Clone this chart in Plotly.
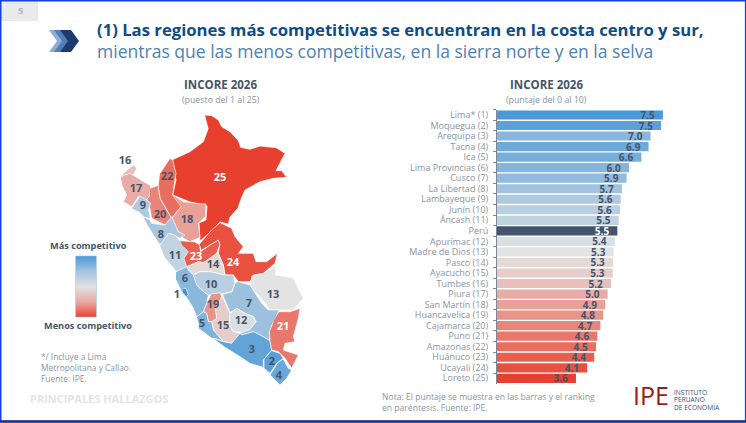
import plotly.graph_objects as go

FONT = "Open Sans"
DARK = "#44546a"
GREY = "#8a94a3"

REGIONS = ["Lima* (1)", "Moquegua (2)", "Arequipa (3)", "Tacna (4)", "Ica (5)", "Lima Provincias (6)",
           "Cusco (7)", "La Libertad (8)", "Lambayeque (9)", "Junín (10)", "Áncash (11)", "Perú",
           "Apurímac (12)", "Madre de Dios (13)", "Pasco (14)", "Ayacucho (15)", "Tumbes (16)", "Piura (17)",
           "San Martín (18)", "Huancavelica (19)", "Cajamarca (20)", "Puno (21)", "Amazonas (22)",
           "Huánuco (23)", "Ucayali (24)", "Loreto (25)"]
SCORES = [7.54, 7.46, 6.98, 6.89, 6.56, 6.00, 5.89, 5.68, 5.62, 5.59, 5.53, 5.47, 5.35, 5.30, 5.27, 5.26,
          5.18, 5.03, 4.92, 4.83, 4.70, 4.56, 4.50, 4.42, 4.10, 3.59]
SCORE_LABELS = ["7.5", "7.5", "7.0", "6.9", "6.6", "6.0", "5.9", "5.7", "5.6", "5.6", "5.5", "5.5", "5.4",
                "5.3", "5.3", "5.3", "5.2", "5.0", "4.9", "4.8", "4.7", "4.6", "4.5", "4.4", "4.1", "3.6"]
BAR_COLORS = ["#4998d8", "#5ca2d9", "#88b6dd", "#6daad9", "#74aeda", "#85b5dc", "#91bbdd", "#a2c2dd",
              "#afc9df", "#b7cfe0", "#bed2e0", "#44546e", "#dadfe4", "#e3e3e3", "#e5d9d7", "#e6cdcb",
              "#e7c0bc", "#e8aca7", "#e8a097", "#e89489", "#e8857a", "#e8786b", "#e86e60", "#e85f50",
              "#e85040", "#e8402e"]

# Map outlines: rank -> (crop origin x, crop origin y, points read in 3x crop units)
REGION_OUTLINES = {
    25: (150, 110, [(165,15),(185,17),(205,30),(215,50),(240,65),(265,92),(272,112),(300,118),(330,108),(378,113),
                    (405,130),(378,182),(395,182),(410,202),(370,205),(330,215),(285,240),(275,262),(264,294),
                    (240,321),(235,342),(210,336),(195,354),(150,393),(147,339),(168,330),(171,288),
                    (120,276),(69,255),(69,250),(78,210),(66,150),(120,125),(160,95),(175,55)]),
    22: (100, 130, [(180,130),(210,85),(218,90),(228,130),(218,195),(243,230),(215,265),(180,205),(175,175)]),
    18: (100, 130, [(218,195),(250,215),(290,220),(318,222),(316,260),(295,280),(300,322),(270,335),(250,325),
                    (225,290),(215,265),(243,230)]),
    16: (100, 130, [(62,140),(75,125),(100,105),(110,115),(100,135),(85,140)]),
    17: (100, 130, [(62,140),(90,130),(115,145),(130,155),(150,165),(152,175),(150,195),(140,210),(130,210),(115,200),
                    (95,230),(70,215),(80,195),(68,170)]),
    20: (100, 130, [(150,175),(175,166),(176,178),(180,205),(200,240),(215,265),(205,290),(185,280),(155,265),(150,235),
                    (140,210),(150,195)]),
    9: (110, 170, [(65,115),(90,78),(110,90),(122,100),(115,120),(118,130),(122,145),(105,143),(85,125)]),
    8: (110, 170, [(100,140),(120,150),(125,160),(165,165),(185,140),(195,165),(205,185),(225,195),(210,205),
                   (200,200),(180,190),(165,215),(150,225),(130,195),(115,170)]),
    11: (100, 130, [(180,345),(205,310),(225,315),(240,333),(255,345),(270,370),(255,380),(270,410),(255,420),(230,425),(195,385)]),
    23: (170, 220, [(30,62),(75,66),(88,74),(92,95),(120,75),(145,60),(150,72),(140,100),(120,120),(100,128),(85,125),
                    (50,140),(42,115),(55,95),(40,80)]),
    24: (170, 220, [(88,72),(125,30),(150,8),(185,25),(195,50),(220,80),(205,100),(250,100),(258,125),(290,125),
                    (322,100),(315,130),(280,160),(250,165),(240,185),(205,185),(190,165),(165,165),(160,135),
                    (145,100),(150,72),(145,60),(95,90)]),
    14: (170, 220, [(50,140),(85,125),(100,128),(140,100),(145,100),(160,135),(165,165),(145,160),(120,155),(90,155),
                    (70,165),(55,150)]),
    10: (170, 220, [(70,165),(90,155),(120,155),(145,160),(165,165),(190,165),(195,190),(185,215),(160,220),(140,225),
                    (115,225),(100,215),(80,195)]),
    13: (130, 260, [(365,48),(400,40),(437,18),(437,45),(470,50),(490,55),(520,115),(490,150),(420,150),(390,110),(360,85)]),
    7: (170, 280, [(205,5),(240,15),(275,70),(295,90),(327,90),(310,130),(298,160),(300,182),(270,165),(250,155),
                   (215,165),(210,158),(240,148),(258,125),(250,110),(225,100),(200,85),(180,98),(175,85),(157,43),
                   (186,36),(195,10)]),
    12: (170, 280, [(180,100),(200,85),(225,100),(250,110),(258,125),(240,148),(215,157),(190,155),(178,135)]),
    15: (170, 280, [(155,45),(175,85),(180,100),(178,135),(190,155),(210,160),(205,175),(185,190),(160,185),(130,150),
                    (125,125),(140,115),(135,80)]),
    19: (170, 280, [(125,42),(150,38),(155,48),(145,75),(135,85),(140,115),(125,125),(115,125),(110,100),(100,95),(110,70)]),
    5: (170, 280, [(80,110),(100,95),(110,100),(115,125),(125,125),(130,150),(160,185),(135,175),(125,175),(100,155),
                   (85,145),(85,125)]),
    3: (170, 280, [(130,175),(160,185),(185,190),(210,160),(215,165),(250,155),(270,165),(300,182),(305,210),(280,240),
                   (280,262),(240,250),(210,230),(170,205)]),
    2: (170, 280, [(305,212),(330,220),(340,235),(320,250),(300,280),(282,265),(282,240)]),
    4: (170, 280, [(340,238),(355,265),(365,270),(350,295),(330,315),(300,285),(322,250)]),
    21: (170, 280, [(327,95),(360,95),(390,85),(385,115),(370,170),(375,185),(345,190),(340,210),(385,225),(365,265),
                    (345,235),(325,215),(305,210),(300,182),(298,155),(310,125)]),
    6: (170, 220, [(18,155),(50,140),(55,150),(70,165),(80,195),(100,215),(115,225),(110,250),(100,275),(80,290),
                   (70,265),(55,240),(35,215),(18,180)]),
    1: (170, 280, [(38,25),(48,25),(55,45),(48,50),(40,40)]),
}
MAP_COLORS = {1: "#3f8fd4", 2: "#5a9fd8", 3: "#62a3d8", 4: "#68a8db", 5: "#80b4dd", 6: "#8ab8dd", 7: "#9cc0dd",
              8: "#a8c6df", 9: "#afcae0", 10: "#b7cfe0", 11: "#c2d4e1", 12: "#dadfe4", 13: "#e3e3e3", 14: "#e5d9d7",
              15: "#e6cdcb", 16: "#e7c0bc", 17: "#e8aca7", 18: "#e8a097", 19: "#e89489", 20: "#e8857a", 21: "#e8786b",
              22: "#e86e60", 23: "#e85f50", 24: "#e85040", 25: "#e8402e"}

RANK_TEXT = ["16", "17", "9", "22", "25", "20", "18", "8", "11", "23", "14", "24", "6", "1", "10", "19", "15",
             "12", "7", "13", "5", "21", "3", "2", "4"]
RANK_X = [125, 136, 143, 167, 220, 160, 187, 161, 175, 196, 213, 233, 185, 177, 211, 213, 223, 241, 249, 273, 202,
          283, 252, 272, 279]
RANK_Y = [161, 189, 206, 177, 178, 215, 220, 235, 256, 257, 265, 263, 279, 295, 285, 305, 326, 321, 304, 295, 324,
          327, 350, 362, 376]
RANK_COLORS = ["white" if t in ("25", "23", "24", "21") else DARK for t in RANK_TEXT]

W, H = 746, 423
fig = go.Figure()

# bars
fig.add_trace(go.Bar(x=SCORES, y=REGIONS, orientation="h", xaxis="x", yaxis="y",
                     marker=dict(color=BAR_COLORS, line=dict(width=0)),
                     text=[s + "\u00a0\u00a0" for s in SCORE_LABELS], textposition="inside", insidetextanchor="end",
                     constraintext="none", textangle=0,
                     textfont=dict(family=FONT, size=10, weight=700,
                                   color=["white" if r == "Perú" else DARK for r in REGIONS]),
                     showlegend=False, hoverinfo="skip"))

# map
for rank, (ox, oy, pts) in REGION_OUTLINES.items():
    fig.add_trace(go.Scatter(x=[ox + p[0] / 3 for p in pts], y=[oy + p[1] / 3 for p in pts],
                             xaxis="x2", yaxis="y2", mode="lines", fill="toself",
                             fillcolor=MAP_COLORS[rank], line=dict(color="rgba(255,255,255,0.85)", width=0.8),
                             showlegend=False, hoverinfo="skip"))
fig.add_trace(go.Scatter(x=RANK_X, y=RANK_Y, xaxis="x2", yaxis="y2", mode="text", text=RANK_TEXT,
                         textfont=dict(family=FONT, size=11, weight=700, color=RANK_COLORS),
                         showlegend=False, hoverinfo="skip"))

# legend ramp
fig.add_trace(go.Heatmap(z=[[1, 1], [0, 0]], x=[0, 1], y=[0, 1], xaxis="x3", yaxis="y3", zsmooth="best",
                         colorscale=[[0, "#4a9ad8"], [0.25, "#a5c5df"], [0.5, "#e2e2e2"], [0.75, "#e9a8a0"], [1, "#e8402e"]],
                         showscale=False, hoverinfo="skip"))


def note(x, y, text, size, color, bold=False, anchor="left"):
    return dict(xref="paper", yref="paper", x=x / W, y=1 - y / H, text=text, showarrow=False, xanchor=anchor,
                yanchor="middle", align=anchor,
                font=dict(family=FONT, size=size, color=color, weight=700 if bold else 400))


annotations = [
    note(20, 10, "5", 9.5, "#b5b8ba", True, "center"),
    note(95, 30, "(1) Las regiones más competitivas se encuentran en la costa centro y sur,", 16.7, "#0f4c87", True),
    note(95, 51, "mientras que las menos competitivas, en la sierra norte y en la selva", 17.55, "#4f81b0"),
    note(221, 84, "INCORE 2026", 11.5, DARK, True, "center"),
    note(221, 100, "(puesto del 1 al 25)", 8.8, GREY, False, "center"),
    note(546, 84, "INCORE 2026", 11.5, DARK, True, "center"),
    note(546, 100, "(puntaje del 0 al 10)", 8.8, GREY, False, "center"),
    note(88, 246, "Más competitivo", 9.2, DARK, True, "center"),
    note(88, 325, "Menos competitivo", 9.2, DARK, True, "center"),
    note(39, 356, "*/ Incluye a Lima", 8.4, GREY),
    note(39, 367, "Metropolitana y Callao.", 8.4, GREY),
    note(39, 378, "Fuente: IPE.", 8.4, GREY),
    note(28, 398, "PRINCIPALES HALLAZGOS", 11, "#e3e5e8", True),
    note(380, 397, "Nota: El puntaje se muestra en las barras y el ranking", 8.6, GREY),
    note(380, 408, "en paréntesis. Fuente: IPE.", 8.6, GREY),
    note(631, 395, "IPE", 25, "#9b1c1c"),
    note(672, 392, "INSTITUTO", 6.6, "#3a4a78"),
    note(672, 399.5, "PERUANO", 6.6, "#3a4a78"),
    note(672, 407, "DE ECONOMÍA", 6.6, "#3a4a78"),
]


def chevron(x0, color):
    return dict(type="path", xref="x2", yref="y2", layer="above", line=dict(width=0), fillcolor=color,
                path=f"M{x0} 30 L{x0+11} 30 L{x0+19} 41 L{x0+11} 52 L{x0} 52 L{x0+8} 41 Z")


shapes = [
    dict(type="rect", xref="x2", yref="y2", x0=1, x1=38, y0=1, y1=21, fillcolor="#e8eaeb", line=dict(width=0), layer="below"),
    chevron(49, "#8fadd3"), chevron(54, "#4f7fb8"), chevron(60, "#1f3a6e"),
    dict(type="rect", xref="x2", yref="y2", x0=75.5, x1=96.5, y0=256, y1=317, line=dict(color="#9cc4e4", width=0.6), fillcolor="rgba(0,0,0,0)"),
    dict(type="rect", xref="paper", yref="paper", x0=0.001, x1=0.9995, y0=0.0035, y1=0.998,
         line=dict(color="#1a3ee0", width=1.5), fillcolor="rgba(0,0,0,0)"),
    dict(type="line", xref="paper", yref="paper", x0=0, x1=1, y0=0.0035, y1=0.0035, line=dict(color="#12308f", width=2.5)),
]

fig.update_layout(
    width=W, height=H, margin=dict(l=0, r=0, t=0, b=0, pad=0), autosize=False,
    paper_bgcolor="white", plot_bgcolor="rgba(0,0,0,0)",
    bargap=0.13, showlegend=False, annotations=annotations, shapes=shapes,
    font=dict(family=FONT),
    xaxis=dict(domain=[497 / W, 1], range=[0, 249 / 22], visible=False, fixedrange=True),
    yaxis=dict(domain=[1 - 383.6 / H, 1 - 109.7 / H], type="category", autorange="reversed", anchor="x",
               categoryorder="array", categoryarray=REGIONS, tickmode="linear", dtick=1,
               showline=True, linecolor="#7d8796", linewidth=1, ticks="outside", tickson="boundaries",
               ticklen=3, tickcolor="#7d8796", tickwidth=1, ticklabelstandoff=6,
               tickfont=dict(family=FONT, size=9, color=GREY), showgrid=False, fixedrange=True, automargin=False),
    xaxis2=dict(domain=[0, 1], range=[0, W], visible=False, anchor="y2", fixedrange=True),
    yaxis2=dict(domain=[0, 1], range=[H, 0], visible=False, anchor="x2", fixedrange=True),
    xaxis3=dict(domain=[75.5 / W, 96.5 / W], range=[0, 1], visible=False, anchor="y3", fixedrange=True),
    yaxis3=dict(domain=[1 - 317 / H, 1 - 256 / H], range=[0, 1], visible=False, anchor="x3", fixedrange=True),
)

fig.write_html("out.html", config=dict(displayModeBar=False),
               post_script="document.body.style.margin='0';document.body.style.overflow='hidden';")
